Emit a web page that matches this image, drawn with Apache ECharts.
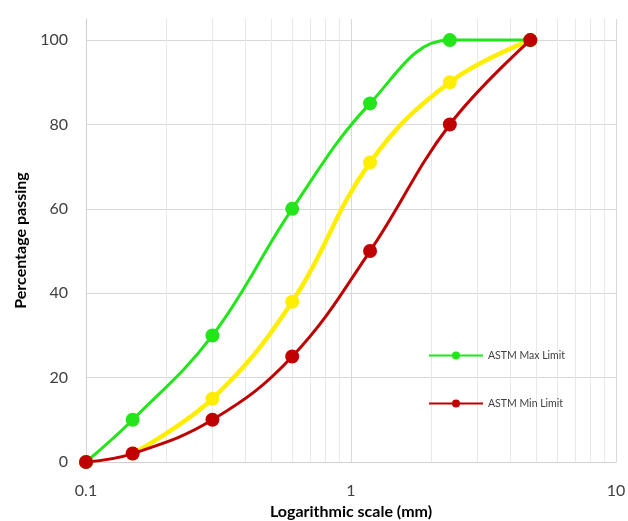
<!DOCTYPE html>
<html>
<head>
<meta charset="utf-8">
<script src="https://cdn.jsdelivr.net/npm/echarts@6/dist/echarts.min.js"></script>
<style>
  html, body { margin: 0; padding: 0; background: #fff; }
  #main { width: 628px; height: 521px; }
</style>
</head>
<body>
<div id="main"></div>
<script>
  // sieve sizes (mm) and % passing
  var sizesMax = [0.1, 0.15, 0.3, 0.6, 1.18, 2.36, 4.75];
  var astmMax = [0, 10, 30, 60, 85, 100, 100];
  var sizesMid = [0.15, 0.3, 0.6, 1.18, 2.36, 4.75];
  var sample = [2, 15, 38, 71, 90, 100];
  var sizesMin = [0.1, 0.15, 0.3, 0.6, 1.18, 2.36, 4.75];
  var astmMin = [0, 2, 10, 25, 50, 80, 100];
  var minorGrid = [0.2, 0.3, 0.4, 0.5, 0.6, 0.7, 0.8, 0.9, 2, 3, 4, 5, 6, 7, 8, 9];

  function pairs(xs, ys) {
    var out = [];
    for (var i = 0; i < xs.length; i++) out.push([xs[i], ys[i]]);
    return out;
  }

  var font = 'Lato';
  var myChart = echarts.init(document.getElementById('main'));
  myChart.setOption({
    animation: false,
    grid: { left: 86, right: 12, top: 19, bottom: 59, containLabel: false, outerBoundsMode: 'none' },
    legend: {
      orient: 'vertical',
      left: 423, top: 345,
      itemGap: 37,
      itemWidth: 54, itemHeight: 10,
      textStyle: { fontFamily: font, fontSize: 10.5, color: '#404040' },
      data: ['ASTM Max Limit', 'ASTM Min Limit']
    },
    xAxis: {
      type: 'log',
      logBase: 10,
      min: 0.1, max: 10,
      name: 'Logarithmic scale (mm)',
      nameLocation: 'middle',
      nameGap: 40,
      nameTextStyle: { fontFamily: font, fontSize: 16, fontWeight: 'bold', color: '#000' },
      axisLine: { show: true, lineStyle: { color: '#d0d0d0', width: 1 } },
      axisTick: { show: false },
      axisLabel: { fontFamily: font, fontSize: 16, color: '#404040', margin: 21 },
      splitLine: { show: true, lineStyle: { color: '#d9d9d9', width: 1 } }
    },
    yAxis: {
      type: 'value',
      min: 0, max: 105, interval: 20,
      name: 'Percentage passing',
      nameLocation: 'middle',
      nameGap: 57,
      nameTextStyle: { fontFamily: font, fontSize: 16, fontWeight: 'bold', color: '#000' },
      axisLine: { show: true, lineStyle: { color: '#d0d0d0', width: 1 } },
      axisTick: { show: false },
      axisLabel: {
        fontFamily: font, fontSize: 16, color: '#404040', margin: 18,
        formatter: function (v) { return v > 100 ? '' : v; }
      },
      splitLine: {
        show: true,
        lineStyle: { color: ['#d9d9d9', '#d9d9d9', '#d9d9d9', '#d9d9d9', '#d9d9d9', '#d9d9d9', 'rgba(0,0,0,0)'], width: 1 }
      }
    },
    series: [
      {
        name: 'ASTM Max Limit',
        type: 'line',
        data: pairs(sizesMax, astmMax),
        smooth: 0.4,
        symbol: 'circle', symbolSize: 14,
        lineStyle: { color: '#22e51a', width: 3 },
        itemStyle: { color: '#22e51a' },
        z: 3,
        markLine: {
          silent: true,
          symbol: 'none',
          label: { show: false },
          lineStyle: { color: '#e9e9e9', width: 1, type: 'solid' },
          data: minorGrid.map(function (v) { return { xAxis: v }; }),
          z: 1
        }
      },
      {
        name: 'Sample',
        type: 'line',
        data: pairs(sizesMid, sample),
        smooth: 0.4,
        symbol: 'circle', symbolSize: 14,
        lineStyle: { color: '#ffee00', width: 4.5 },
        itemStyle: { color: '#ffee00' },
        z: 2
      },
      {
        name: 'ASTM Min Limit',
        type: 'line',
        data: pairs(sizesMin, astmMin),
        smooth: 0.4,
        symbol: 'circle', symbolSize: 14,
        lineStyle: { color: '#c00000', width: 3 },
        itemStyle: { color: '#c00000' },
        z: 4
      }
    ]
  });
</script>
</body>
</html>
